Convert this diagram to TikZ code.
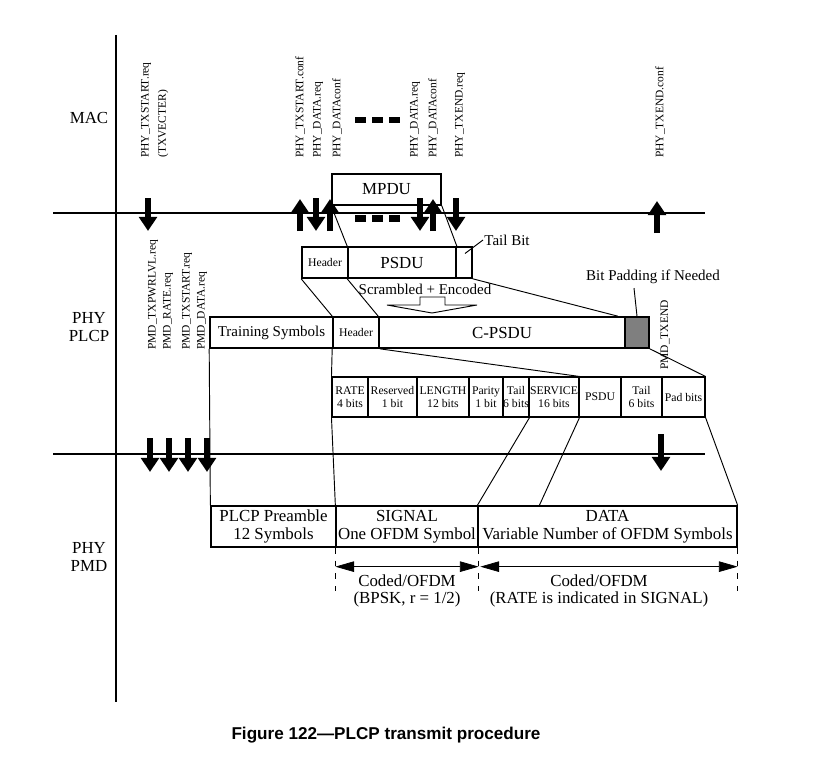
\documentclass[tikz,border=0pt]{standalone}
\usepackage{fontspec}
\setmainfont{Liberation Serif}
\setsansfont{Liberation Sans}
\usepackage{tikz}
\usetikzlibrary{arrows.meta,fit,calc}
\definecolor{padgray}{HTML}{7F7F7F}
\tikzset{
	lane/.style={line width=1.6pt},
	blk/.style={draw, line width=1.4pt, inner sep=0pt},
	fld/.style={draw, line width=0.9pt, inner sep=0pt},
	pmdblk/.style={draw, line width=1.1pt, inner sep=0pt},
	link/.style={line width=0.8pt},
	sig/.style={line width=4.8pt, -{Triangle[width=15pt,length=12pt]}},
	prim/.style={rotate=90, anchor=west, inner sep=0pt, font=\fontsize{9.8}{11}\selectfont},
	bigtxt/.style={font=\fontsize{14.4}{15.6}\selectfont},
	midtxt/.style={font=\fontsize{12.8}{14}\selectfont},
	smalltxt/.style={font=\fontsize{10}{10.6}\selectfont, align=center},
	codetxt/.style={font=\fontsize{14.4}{14}\selectfont, align=center},
	dimline/.style={line width=0.6pt, {Triangle[width=9pt,length=16pt]}-{Triangle[width=9pt,length=16pt]}},
	dimtick/.style={line width=0.6pt, dash pattern=on 5pt off 6pt},
}
\begin{document}
\begin{tikzpicture}[x=0.03cm, y=-0.03cm]
	\useasboundingbox (0,0) rectangle (816,758);
	\coordinate (axtop) at (116,35);
	\coordinate (axbot) at (116,702);
	\coordinate (macl) at (53,213);
	\coordinate (macr) at (705,213);
	\coordinate (pmdl) at (53,454);
	\coordinate (pmdr) at (705,454);
	\draw[lane] (axtop) -- (axbot);
	\draw[lane] (macl) -- (macr);
	\draw[lane] (pmdl) -- (pmdr);
	\node[bigtxt] (maclayer) at (89,118) {MAC};
	\node[bigtxt, align=center] (plcplayer) at (89,327) {PHY\\PLCP};
	\node[bigtxt, align=center] (pmdlayer) at (89,557) {PHY\\PMD};
	% MAC primitives
	\node[prim] (txstart) at (146,158) {PHY\_TXSTART.req};
	\node[prim] (txvector) at (163,158) {(TXVECTER)};
	\node[prim] (txconf) at (300,158) {PHY\_TXSTART.conf};
	\node[prim] (datareqa) at (318,158) {PHY\_DATA.req};
	\node[prim] (dataconfa) at (337,158) {PHY\_DATAconf};
	\node[prim] (datareqb) at (415,158) {PHY\_DATA.req};
	\node[prim] (dataconfb) at (433,158) {PHY\_DATAconf};
	\node[prim] (endreq) at (460,158) {PHY\_TXEND.req};
	\node[prim] (endconf) at (660,158) {PHY\_TXEND.conf};
	\foreach \x in {355,372,389} {
		\fill (\x,117) rectangle ++(11,6);
		\fill (\x,215) rectangle ++(11,7);
	}
	% PLCP frame
	\node[blk, fit={(332,174) (441,205)}, label={[bigtxt]center:MPDU}] (mpdu) {};
	\node[blk, fit={(302,247) (348,278)}, label={[smalltxt]center:Header}] (psduhdr) {};
	\node[blk, fit={(348,247) (456,278)}, label={[bigtxt]center:PSDU}] (psdu) {};
	\node[blk, fit={(456,247) (472,278)}] (tailbit) {};
	\node[midtxt, anchor=west, inner sep=1pt] (tailtxt) at (483,240) {Tail Bit};
	\draw[link] ($(tailbit.center)+(1,-9)$) -- (tailtxt.west);
	\node[blk, fit={(210,317) (333,348)}, label={[midtxt]center:Training Symbols}] (train) {};
	\node[blk, fit={(333,317) (379,348)}, label={[smalltxt]center:Header}] (plcphdr) {};
	\node[blk, fit={(379,317) (625,348)}, label={[bigtxt]center:C-PSDU}] (cpsdu) {};
	\node[blk, fill=padgray, fit={(625,317) (649,348)}] (pad) {};
	\node[midtxt] (scr) at (425,289) {Scrambled + Encoded};
	\draw[link] (420,297) -- (445,297) -- (445,305) -- (477,305) -- (432,313) -- (387,305) -- (420,305) -- cycle;
	\node[midtxt] (padtxt) at (653,277) {Bit Padding if Needed};
	\draw[link] ($(padtxt.south)+(-19,0)$) -- (pad.north);
	\draw[link] (mpdu.south west) -- (psdu.north west);
	\draw[link] (mpdu.south east) -- (psdu.north east);
	\draw[link] (psduhdr.south west) -- (plcphdr.north west);
	\draw[link] (psdu.south west) -- (cpsdu.north west);
	\draw[link] (tailbit.south east) -- ($(cpsdu.north east)+(-8,0)$);
	% SIGNAL and DATA fields
	\node[fld, fit={(332,377) (368,417)}, label={[smalltxt]center:RATE\\4 bits}] (rate) {};
	\node[fld, fit={(368,377) (417,417)}, label={[smalltxt]center:Reserved\\1 bit}] (resv) {};
	\node[fld, fit={(417,377) (469,417)}, label={[smalltxt]center:LENGTH\\12 bits}] (length) {};
	\node[fld, fit={(469,377) (503,417)}, label={[smalltxt]center:Parity\\1 bit}] (parity) {};
	\node[fld, fit={(503,377) (529,417)}, label={[smalltxt]center:Tail\\6 bits}] (sigtail) {};
	\node[fld, fit={(529,377) (579,417)}, label={[smalltxt]center:SERVICE\\16 bits}] (service) {};
	\node[fld, fit={(579,377) (621,417)}, label={[smalltxt]center:PSDU}] (fpsdu) {};
	\node[fld, fit={(621,377) (662,417)}, label={[smalltxt]center:Tail\\6 bits}] (datatail) {};
	\node[fld, fit={(662,377) (705,417)}, label={[smalltxt]center:Pad bits}] (padbits) {};
	\draw[link] (plcphdr.south west) -- (rate.north west);
	\draw[link] (plcphdr.south east) -- (service.north east);
	\draw[link] (pad.south east) -- (padbits.north east);
	% PMD primitives
	\node[prim] (txpwrlvl) at (153,350) {PMD\_TXPWRLVL.req};
	\node[prim] (pmdrate) at (168,350) {PMD\_RATE.req};
	\node[prim] (pmdstart) at (187,350) {PMD\_TXSTART.req};
	\node[prim] (pmddata) at (202,350) {PMD\_DATA.req};
	\node[prim] (pmdend) at (665,370) {PMD\_TXEND};
	% PMD frame
	\node[pmdblk, fit={(211,506) (336,547)}, label={[bigtxt, align=center]center:PLCP Preamble\\12 Symbols}] (preamble) {};
	\node[pmdblk, fit={(336,506) (478,547)}, label={[bigtxt, align=center]center:SIGNAL\\One OFDM Symbol}] (signal) {};
	\node[pmdblk, fit={(478,506) (737,547)}, label={[bigtxt, align=center]center:DATA\\Variable Number of OFDM Symbols}] (data) {};
	\draw[link] (train.south west) -- (preamble.north west);
	\draw[link] (rate.south west) -- (signal.north west);
	\draw[link] (sigtail.south east) -- (data.north west);
	\draw[link] (service.south east) -- ($(data.north west)+(62,0)$);
	\draw[link] (padbits.south east) -- (data.north east);
	\foreach \a in {signal.south west,signal.south east,data.south east}
		\draw[dimtick] (\a) -- ++(0,43);
	\draw[dimline] ($(signal.south west)+(0,19)$) -- ($(signal.south east)+(0,19)$);
	\draw[dimline] ($(data.south west)+(3,19)$) -- ($(data.south east)+(0,19)$);
	\node[codetxt] (codeda) at (407,591) {Coded/OFDM\\(BPSK, r = 1/2)};
	\node[codetxt] (codedb) at (599,591) {Coded/OFDM\\(RATE is indicated in SIGNAL)};
	% service primitives
	\foreach \x in {148,316,420,456} \draw[sig] (\x,198) -- (\x,231);
	\foreach \x in {300,330,433} \draw[sig] (\x,231) -- (\x,199);
	\draw[sig] (657,233) -- (657,201);
	\foreach \x in {150,169,188,207} \draw[sig] (\x,438) -- (\x,472);
	\draw[sig] (661,434) -- (661,471);
	\node[font=\sffamily\bfseries\fontsize{14.6}{16}\selectfont] (caption) at (386,735) {Figure 122\textemdash PLCP transmit procedure};
\end{tikzpicture}
\end{document}
